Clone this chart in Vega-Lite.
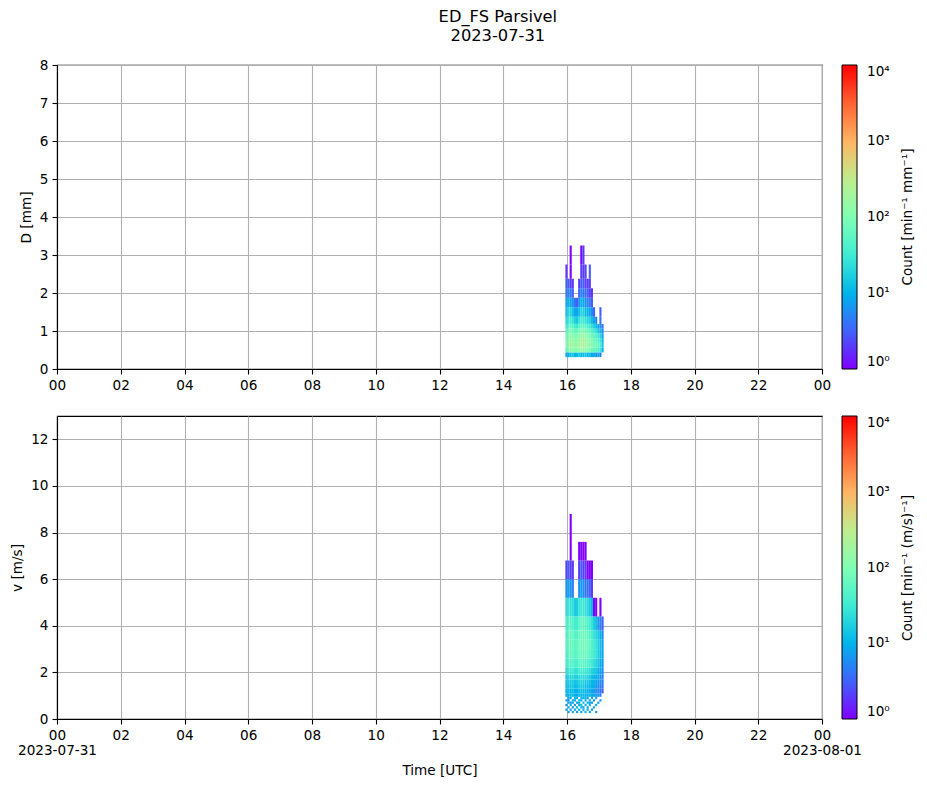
{
  "$schema": "https://vega.github.io/schema/vega-lite/v6.json",
  "description": "ED_FS Parsivel drop size and velocity spectra, 2023-07-31",
  "background": "white",
  "padding": {"left": 10, "top": 8, "right": 5, "bottom": 5},
  "title": {
    "text": ["ED_FS Parsivel", "2023-07-31"],
    "font": "DejaVu Sans",
    "fontSize": 16.3,
    "fontWeight": "normal",
    "color": "black",
    "anchor": "middle",
    "lineHeight": 19.5,
    "offset": 13,
    "dx": 35
  },
  "datasets": {
    "dcls": [
      {"k": 0.312, "hi": 0.437}, {"k": 0.437, "hi": 0.562}, {"k": 0.562, "hi": 0.687},
      {"k": 0.687, "hi": 0.812}, {"k": 0.812, "hi": 0.937}, {"k": 0.937, "hi": 1.062},
      {"k": 1.062, "hi": 1.187}, {"k": 1.187, "hi": 1.375}, {"k": 1.375, "hi": 1.625},
      {"k": 1.625, "hi": 1.875}, {"k": 1.875, "hi": 2.125}, {"k": 2.125, "hi": 2.375},
      {"k": 2.375, "hi": 2.75}, {"k": 2.75, "hi": 3.25}
    ],
    "vcls": [
      {"k": 0.25, "hi": 0.35}, {"k": 0.35, "hi": 0.45}, {"k": 0.45, "hi": 0.55},
      {"k": 0.55, "hi": 0.65}, {"k": 0.65, "hi": 0.75}, {"k": 0.75, "hi": 0.85},
      {"k": 0.85, "hi": 0.95}, {"k": 0.95, "hi": 1.1}, {"k": 1.1, "hi": 1.3},
      {"k": 1.3, "hi": 1.5}, {"k": 1.5, "hi": 1.7}, {"k": 1.7, "hi": 1.9},
      {"k": 1.9, "hi": 2.2}, {"k": 2.2, "hi": 2.6}, {"k": 2.6, "hi": 3.0},
      {"k": 3.0, "hi": 3.4}, {"k": 3.4, "hi": 3.8}, {"k": 3.8, "hi": 4.4},
      {"k": 4.4, "hi": 5.2}, {"k": 5.2, "hi": 6.0}, {"k": 6.0, "hi": 6.8},
      {"k": 6.8, "hi": 7.6}, {"k": 7.6, "hi": 8.8}
    ],
    "d": [
      {"t": 956, "k": 0.312, "n": 10}, {"t": 956, "k": 0.437, "n": 60}, {"t": 956, "k": 0.562, "n": 90}, {"t": 956, "k": 0.687, "n": 80}, {"t": 956, "k": 0.812, "n": 70}, {"t": 956, "k": 0.937, "n": 50}, {"t": 956, "k": 1.062, "n": 30}, {"t": 956, "k": 1.187, "n": 20}, {"t": 956, "k": 1.375, "n": 12}, {"t": 956, "k": 1.625, "n": 8}, {"t": 956, "k": 1.875, "n": 4}, {"t": 956, "k": 2.125, "n": 3}, {"t": 956, "k": 2.375, "n": 2},
      {"t": 960, "k": 0.312, "n": 8}, {"t": 960, "k": 0.437, "n": 100}, {"t": 960, "k": 0.562, "n": 150}, {"t": 960, "k": 0.687, "n": 130}, {"t": 960, "k": 0.812, "n": 110}, {"t": 960, "k": 0.937, "n": 80}, {"t": 960, "k": 1.062, "n": 50}, {"t": 960, "k": 1.187, "n": 30}, {"t": 960, "k": 1.375, "n": 20}, {"t": 960, "k": 1.625, "n": 10}, {"t": 960, "k": 1.875, "n": 5}, {"t": 960, "k": 2.125, "n": 3},
      {"t": 964, "k": 0.312, "n": 12}, {"t": 964, "k": 0.437, "n": 120}, {"t": 964, "k": 0.562, "n": 180}, {"t": 964, "k": 0.687, "n": 160}, {"t": 964, "k": 0.812, "n": 120}, {"t": 964, "k": 0.937, "n": 90}, {"t": 964, "k": 1.062, "n": 60}, {"t": 964, "k": 1.187, "n": 35}, {"t": 964, "k": 1.375, "n": 20}, {"t": 964, "k": 1.625, "n": 8}, {"t": 964, "k": 1.875, "n": 4}, {"t": 964, "k": 2.125, "n": 2}, {"t": 964, "k": 2.375, "n": 1}, {"t": 964, "k": 2.75, "n": 1},
      {"t": 968, "k": 0.312, "n": 15}, {"t": 968, "k": 0.437, "n": 130}, {"t": 968, "k": 0.562, "n": 170}, {"t": 968, "k": 0.687, "n": 150}, {"t": 968, "k": 0.812, "n": 120}, {"t": 968, "k": 0.937, "n": 80}, {"t": 968, "k": 1.062, "n": 50}, {"t": 968, "k": 1.187, "n": 25}, {"t": 968, "k": 1.375, "n": 12}, {"t": 968, "k": 1.625, "n": 6}, {"t": 968, "k": 1.875, "n": 3}, {"t": 968, "k": 2.125, "n": 2},
      {"t": 972, "k": 0.312, "n": 10}, {"t": 972, "k": 0.437, "n": 100}, {"t": 972, "k": 0.562, "n": 140}, {"t": 972, "k": 0.687, "n": 120}, {"t": 972, "k": 0.812, "n": 90}, {"t": 972, "k": 0.937, "n": 60}, {"t": 972, "k": 1.062, "n": 35}, {"t": 972, "k": 1.187, "n": 18}, {"t": 972, "k": 1.375, "n": 8}, {"t": 972, "k": 1.625, "n": 4},
      {"t": 976, "k": 0.312, "n": 12}, {"t": 976, "k": 0.437, "n": 110}, {"t": 976, "k": 0.562, "n": 150}, {"t": 976, "k": 0.687, "n": 130}, {"t": 976, "k": 0.812, "n": 100}, {"t": 976, "k": 0.937, "n": 60}, {"t": 976, "k": 1.062, "n": 30}, {"t": 976, "k": 1.187, "n": 15}, {"t": 976, "k": 1.375, "n": 8}, {"t": 976, "k": 1.625, "n": 3},
      {"t": 980, "k": 0.312, "n": 15}, {"t": 980, "k": 0.437, "n": 130}, {"t": 980, "k": 0.562, "n": 200}, {"t": 980, "k": 0.687, "n": 180}, {"t": 980, "k": 0.812, "n": 140}, {"t": 980, "k": 0.937, "n": 90}, {"t": 980, "k": 1.062, "n": 50}, {"t": 980, "k": 1.187, "n": 25}, {"t": 980, "k": 1.375, "n": 12}, {"t": 980, "k": 1.625, "n": 6}, {"t": 980, "k": 1.875, "n": 3}, {"t": 980, "k": 2.125, "n": 2},
      {"t": 984, "k": 0.312, "n": 10}, {"t": 984, "k": 0.437, "n": 150}, {"t": 984, "k": 0.562, "n": 220}, {"t": 984, "k": 0.687, "n": 200}, {"t": 984, "k": 0.812, "n": 150}, {"t": 984, "k": 0.937, "n": 100}, {"t": 984, "k": 1.062, "n": 60}, {"t": 984, "k": 1.187, "n": 35}, {"t": 984, "k": 1.375, "n": 20}, {"t": 984, "k": 1.625, "n": 10}, {"t": 984, "k": 1.875, "n": 5}, {"t": 984, "k": 2.125, "n": 3}, {"t": 984, "k": 2.375, "n": 2}, {"t": 984, "k": 2.75, "n": 1},
      {"t": 988, "k": 0.312, "n": 12}, {"t": 988, "k": 0.437, "n": 140}, {"t": 988, "k": 0.562, "n": 210}, {"t": 988, "k": 0.687, "n": 190}, {"t": 988, "k": 0.812, "n": 150}, {"t": 988, "k": 0.937, "n": 100}, {"t": 988, "k": 1.062, "n": 60}, {"t": 988, "k": 1.187, "n": 30}, {"t": 988, "k": 1.375, "n": 18}, {"t": 988, "k": 1.625, "n": 8}, {"t": 988, "k": 1.875, "n": 4}, {"t": 988, "k": 2.125, "n": 3}, {"t": 988, "k": 2.375, "n": 2}, {"t": 988, "k": 2.75, "n": 2},
      {"t": 992, "k": 0.312, "n": 14}, {"t": 992, "k": 0.437, "n": 120}, {"t": 992, "k": 0.562, "n": 180}, {"t": 992, "k": 0.687, "n": 170}, {"t": 992, "k": 0.812, "n": 130}, {"t": 992, "k": 0.937, "n": 80}, {"t": 992, "k": 1.062, "n": 50}, {"t": 992, "k": 1.187, "n": 25}, {"t": 992, "k": 1.375, "n": 12}, {"t": 992, "k": 1.625, "n": 6}, {"t": 992, "k": 1.875, "n": 4}, {"t": 992, "k": 2.125, "n": 2}, {"t": 992, "k": 2.375, "n": 2},
      {"t": 996, "k": 0.312, "n": 10}, {"t": 996, "k": 0.437, "n": 100}, {"t": 996, "k": 0.562, "n": 150}, {"t": 996, "k": 0.687, "n": 140}, {"t": 996, "k": 0.812, "n": 110}, {"t": 996, "k": 0.937, "n": 70}, {"t": 996, "k": 1.062, "n": 40}, {"t": 996, "k": 1.187, "n": 20}, {"t": 996, "k": 1.375, "n": 10}, {"t": 996, "k": 1.625, "n": 5}, {"t": 996, "k": 1.875, "n": 3}, {"t": 996, "k": 2.125, "n": 2},
      {"t": 1000, "k": 0.312, "n": 12}, {"t": 1000, "k": 0.437, "n": 90}, {"t": 1000, "k": 0.562, "n": 140}, {"t": 1000, "k": 0.687, "n": 120}, {"t": 1000, "k": 0.812, "n": 90}, {"t": 1000, "k": 0.937, "n": 60}, {"t": 1000, "k": 1.062, "n": 35}, {"t": 1000, "k": 1.187, "n": 18}, {"t": 1000, "k": 1.375, "n": 8}, {"t": 1000, "k": 1.625, "n": 4}, {"t": 1000, "k": 1.875, "n": 2}, {"t": 1000, "k": 2.125, "n": 2}, {"t": 1000, "k": 2.375, "n": 3},
      {"t": 1004, "k": 0.312, "n": 8}, {"t": 1004, "k": 0.437, "n": 70}, {"t": 1004, "k": 0.562, "n": 110}, {"t": 1004, "k": 0.687, "n": 100}, {"t": 1004, "k": 0.812, "n": 70}, {"t": 1004, "k": 0.937, "n": 45}, {"t": 1004, "k": 1.062, "n": 25}, {"t": 1004, "k": 1.187, "n": 12}, {"t": 1004, "k": 1.375, "n": 6}, {"t": 1004, "k": 1.625, "n": 3}, {"t": 1004, "k": 1.875, "n": 2},
      {"t": 1008, "k": 0.312, "n": 10}, {"t": 1008, "k": 0.437, "n": 60}, {"t": 1008, "k": 0.562, "n": 90}, {"t": 1008, "k": 0.687, "n": 80}, {"t": 1008, "k": 0.812, "n": 60}, {"t": 1008, "k": 0.937, "n": 35}, {"t": 1008, "k": 1.062, "n": 18}, {"t": 1008, "k": 1.187, "n": 8}, {"t": 1008, "k": 1.375, "n": 3},
      {"t": 1012, "k": 0.312, "n": 6}, {"t": 1012, "k": 0.437, "n": 50}, {"t": 1012, "k": 0.562, "n": 70}, {"t": 1012, "k": 0.687, "n": 60}, {"t": 1012, "k": 0.812, "n": 40}, {"t": 1012, "k": 0.937, "n": 25}, {"t": 1012, "k": 1.062, "n": 12}, {"t": 1012, "k": 1.187, "n": 5},
      {"t": 1016, "k": 0.312, "n": 8}, {"t": 1016, "k": 0.437, "n": 40}, {"t": 1016, "k": 0.562, "n": 60}, {"t": 1016, "k": 0.687, "n": 45}, {"t": 1016, "k": 0.812, "n": 30}, {"t": 1016, "k": 0.937, "n": 15}, {"t": 1016, "k": 1.062, "n": 8},
      {"t": 1020, "k": 0.312, "n": 5}, {"t": 1020, "k": 0.437, "n": 30}, {"t": 1020, "k": 0.562, "n": 40}, {"t": 1020, "k": 0.687, "n": 30}, {"t": 1020, "k": 0.812, "n": 20}, {"t": 1020, "k": 0.937, "n": 12}, {"t": 1020, "k": 1.062, "n": 6}, {"t": 1020, "k": 1.187, "n": 4}, {"t": 1020, "k": 1.375, "n": 3},
      {"t": 1024, "k": 0.437, "n": 10}, {"t": 1024, "k": 0.562, "n": 15}, {"t": 1024, "k": 0.687, "n": 12}, {"t": 1024, "k": 0.812, "n": 8}, {"t": 1024, "k": 0.937, "n": 6}, {"t": 1024, "k": 1.062, "n": 4}
    ],
    "v": [
      {"t": 956, "k": 0.35, "n": 8}, {"t": 956, "k": 0.55, "n": 6}, {"t": 956, "k": 0.75, "n": 10}, {"t": 956, "k": 0.95, "n": 9}, {"t": 956, "k": 1.1, "n": 10}, {"t": 956, "k": 1.3, "n": 12}, {"t": 956, "k": 1.5, "n": 14}, {"t": 956, "k": 1.7, "n": 16}, {"t": 956, "k": 1.9, "n": 22}, {"t": 956, "k": 2.2, "n": 32}, {"t": 956, "k": 2.6, "n": 40}, {"t": 956, "k": 3.0, "n": 45}, {"t": 956, "k": 3.4, "n": 42}, {"t": 956, "k": 3.8, "n": 38}, {"t": 956, "k": 4.4, "n": 22}, {"t": 956, "k": 5.2, "n": 6}, {"t": 956, "k": 6.0, "n": 2},
      {"t": 960, "k": 0.25, "n": 6}, {"t": 960, "k": 0.45, "n": 9}, {"t": 960, "k": 0.65, "n": 10}, {"t": 960, "k": 0.75, "n": 5}, {"t": 960, "k": 0.85, "n": 8}, {"t": 960, "k": 0.95, "n": 10}, {"t": 960, "k": 1.1, "n": 12}, {"t": 960, "k": 1.3, "n": 14}, {"t": 960, "k": 1.5, "n": 16}, {"t": 960, "k": 1.7, "n": 20}, {"t": 960, "k": 1.9, "n": 30}, {"t": 960, "k": 2.2, "n": 48}, {"t": 960, "k": 2.6, "n": 62}, {"t": 960, "k": 3.0, "n": 70}, {"t": 960, "k": 3.4, "n": 65}, {"t": 960, "k": 3.8, "n": 55}, {"t": 960, "k": 4.4, "n": 30}, {"t": 960, "k": 5.2, "n": 8}, {"t": 960, "k": 6.0, "n": 3},
      {"t": 964, "k": 0.35, "n": 7}, {"t": 964, "k": 0.55, "n": 10}, {"t": 964, "k": 0.65, "n": 6}, {"t": 964, "k": 0.85, "n": 9}, {"t": 964, "k": 0.95, "n": 11}, {"t": 964, "k": 1.1, "n": 10}, {"t": 964, "k": 1.3, "n": 14}, {"t": 964, "k": 1.5, "n": 16}, {"t": 964, "k": 1.7, "n": 20}, {"t": 964, "k": 1.9, "n": 30}, {"t": 964, "k": 2.2, "n": 45}, {"t": 964, "k": 2.6, "n": 58}, {"t": 964, "k": 3.0, "n": 65}, {"t": 964, "k": 3.4, "n": 62}, {"t": 964, "k": 3.8, "n": 50}, {"t": 964, "k": 4.4, "n": 26}, {"t": 964, "k": 5.2, "n": 6}, {"t": 964, "k": 6.0, "n": 2}, {"t": 964, "k": 6.8, "n": 1}, {"t": 964, "k": 7.6, "n": 1},
      {"t": 968, "k": 0.25, "n": 8}, {"t": 968, "k": 0.45, "n": 6}, {"t": 968, "k": 0.65, "n": 9}, {"t": 968, "k": 0.75, "n": 10}, {"t": 968, "k": 0.95, "n": 12}, {"t": 968, "k": 1.1, "n": 12}, {"t": 968, "k": 1.3, "n": 15}, {"t": 968, "k": 1.5, "n": 16}, {"t": 968, "k": 1.7, "n": 22}, {"t": 968, "k": 1.9, "n": 32}, {"t": 968, "k": 2.2, "n": 48}, {"t": 968, "k": 2.6, "n": 62}, {"t": 968, "k": 3.0, "n": 66}, {"t": 968, "k": 3.4, "n": 62}, {"t": 968, "k": 3.8, "n": 46}, {"t": 968, "k": 4.4, "n": 24}, {"t": 968, "k": 5.2, "n": 5}, {"t": 968, "k": 6.0, "n": 2},
      {"t": 972, "k": 0.35, "n": 9}, {"t": 972, "k": 0.55, "n": 7}, {"t": 972, "k": 0.75, "n": 8}, {"t": 972, "k": 0.85, "n": 10}, {"t": 972, "k": 0.95, "n": 9}, {"t": 972, "k": 1.1, "n": 10}, {"t": 972, "k": 1.3, "n": 12}, {"t": 972, "k": 1.5, "n": 14}, {"t": 972, "k": 1.7, "n": 18}, {"t": 972, "k": 1.9, "n": 26}, {"t": 972, "k": 2.2, "n": 40}, {"t": 972, "k": 2.6, "n": 50}, {"t": 972, "k": 3.0, "n": 55}, {"t": 972, "k": 3.4, "n": 46}, {"t": 972, "k": 3.8, "n": 35}, {"t": 972, "k": 4.4, "n": 16},
      {"t": 976, "k": 0.25, "n": 7}, {"t": 976, "k": 0.45, "n": 10}, {"t": 976, "k": 0.65, "n": 8}, {"t": 976, "k": 0.85, "n": 9}, {"t": 976, "k": 0.95, "n": 8}, {"t": 976, "k": 1.1, "n": 10}, {"t": 976, "k": 1.3, "n": 13}, {"t": 976, "k": 1.5, "n": 15}, {"t": 976, "k": 1.7, "n": 18}, {"t": 976, "k": 1.9, "n": 26}, {"t": 976, "k": 2.2, "n": 40}, {"t": 976, "k": 2.6, "n": 54}, {"t": 976, "k": 3.0, "n": 58}, {"t": 976, "k": 3.4, "n": 50}, {"t": 976, "k": 3.8, "n": 35}, {"t": 976, "k": 4.4, "n": 17},
      {"t": 980, "k": 0.35, "n": 10}, {"t": 980, "k": 0.55, "n": 8}, {"t": 980, "k": 0.65, "n": 9}, {"t": 980, "k": 0.75, "n": 11}, {"t": 980, "k": 0.95, "n": 12}, {"t": 980, "k": 1.1, "n": 12}, {"t": 980, "k": 1.3, "n": 15}, {"t": 980, "k": 1.5, "n": 18}, {"t": 980, "k": 1.7, "n": 22}, {"t": 980, "k": 1.9, "n": 34}, {"t": 980, "k": 2.2, "n": 55}, {"t": 980, "k": 2.6, "n": 70}, {"t": 980, "k": 3.0, "n": 76}, {"t": 980, "k": 3.4, "n": 70}, {"t": 980, "k": 3.8, "n": 54}, {"t": 980, "k": 4.4, "n": 28}, {"t": 980, "k": 5.2, "n": 6}, {"t": 980, "k": 6.0, "n": 2}, {"t": 980, "k": 6.8, "n": 1},
      {"t": 984, "k": 0.25, "n": 9}, {"t": 984, "k": 0.45, "n": 8}, {"t": 984, "k": 0.55, "n": 11}, {"t": 984, "k": 0.75, "n": 9}, {"t": 984, "k": 0.85, "n": 12}, {"t": 984, "k": 0.95, "n": 10}, {"t": 984, "k": 1.1, "n": 13}, {"t": 984, "k": 1.3, "n": 16}, {"t": 984, "k": 1.5, "n": 20}, {"t": 984, "k": 1.7, "n": 24}, {"t": 984, "k": 1.9, "n": 36}, {"t": 984, "k": 2.2, "n": 58}, {"t": 984, "k": 2.6, "n": 76}, {"t": 984, "k": 3.0, "n": 84}, {"t": 984, "k": 3.4, "n": 76}, {"t": 984, "k": 3.8, "n": 60}, {"t": 984, "k": 4.4, "n": 30}, {"t": 984, "k": 5.2, "n": 7}, {"t": 984, "k": 6.0, "n": 3}, {"t": 984, "k": 6.8, "n": 1},
      {"t": 988, "k": 0.35, "n": 8}, {"t": 988, "k": 0.45, "n": 10}, {"t": 988, "k": 0.65, "n": 12}, {"t": 988, "k": 0.85, "n": 9}, {"t": 988, "k": 0.95, "n": 11}, {"t": 988, "k": 1.1, "n": 12}, {"t": 988, "k": 1.3, "n": 15}, {"t": 988, "k": 1.5, "n": 18}, {"t": 988, "k": 1.7, "n": 23}, {"t": 988, "k": 1.9, "n": 34}, {"t": 988, "k": 2.2, "n": 55}, {"t": 988, "k": 2.6, "n": 72}, {"t": 988, "k": 3.0, "n": 80}, {"t": 988, "k": 3.4, "n": 72}, {"t": 988, "k": 3.8, "n": 58}, {"t": 988, "k": 4.4, "n": 30}, {"t": 988, "k": 5.2, "n": 6}, {"t": 988, "k": 6.0, "n": 2}, {"t": 988, "k": 6.8, "n": 1},
      {"t": 992, "k": 0.25, "n": 10}, {"t": 992, "k": 0.55, "n": 9}, {"t": 992, "k": 0.75, "n": 8}, {"t": 992, "k": 0.85, "n": 11}, {"t": 992, "k": 0.95, "n": 9}, {"t": 992, "k": 1.1, "n": 11}, {"t": 992, "k": 1.3, "n": 13}, {"t": 992, "k": 1.5, "n": 16}, {"t": 992, "k": 1.7, "n": 20}, {"t": 992, "k": 1.9, "n": 30}, {"t": 992, "k": 2.2, "n": 48}, {"t": 992, "k": 2.6, "n": 66}, {"t": 992, "k": 3.0, "n": 72}, {"t": 992, "k": 3.4, "n": 66}, {"t": 992, "k": 3.8, "n": 50}, {"t": 992, "k": 4.4, "n": 25}, {"t": 992, "k": 5.2, "n": 4}, {"t": 992, "k": 6.0, "n": 2}, {"t": 992, "k": 6.8, "n": 1},
      {"t": 996, "k": 0.35, "n": 9}, {"t": 996, "k": 0.45, "n": 7}, {"t": 996, "k": 0.65, "n": 10}, {"t": 996, "k": 0.85, "n": 8}, {"t": 996, "k": 0.95, "n": 10}, {"t": 996, "k": 1.1, "n": 10}, {"t": 996, "k": 1.3, "n": 12}, {"t": 996, "k": 1.5, "n": 15}, {"t": 996, "k": 1.7, "n": 18}, {"t": 996, "k": 1.9, "n": 27}, {"t": 996, "k": 2.2, "n": 43}, {"t": 996, "k": 2.6, "n": 58}, {"t": 996, "k": 3.0, "n": 65}, {"t": 996, "k": 3.4, "n": 58}, {"t": 996, "k": 3.8, "n": 42}, {"t": 996, "k": 4.4, "n": 20}, {"t": 996, "k": 5.2, "n": 4}, {"t": 996, "k": 6.0, "n": 1},
      {"t": 1000, "k": 0.25, "n": 8}, {"t": 1000, "k": 0.55, "n": 10}, {"t": 1000, "k": 0.65, "n": 7}, {"t": 1000, "k": 0.75, "n": 9}, {"t": 1000, "k": 0.95, "n": 11}, {"t": 1000, "k": 1.1, "n": 9}, {"t": 1000, "k": 1.3, "n": 11}, {"t": 1000, "k": 1.5, "n": 13}, {"t": 1000, "k": 1.7, "n": 16}, {"t": 1000, "k": 1.9, "n": 24}, {"t": 1000, "k": 2.2, "n": 38}, {"t": 1000, "k": 2.6, "n": 50}, {"t": 1000, "k": 3.0, "n": 55}, {"t": 1000, "k": 3.4, "n": 48}, {"t": 1000, "k": 3.8, "n": 35}, {"t": 1000, "k": 4.4, "n": 15}, {"t": 1000, "k": 5.2, "n": 3}, {"t": 1000, "k": 6.0, "n": 1},
      {"t": 1004, "k": 0.35, "n": 7}, {"t": 1004, "k": 0.65, "n": 9}, {"t": 1004, "k": 0.85, "n": 8}, {"t": 1004, "k": 0.95, "n": 9}, {"t": 1004, "k": 1.1, "n": 8}, {"t": 1004, "k": 1.3, "n": 10}, {"t": 1004, "k": 1.5, "n": 11}, {"t": 1004, "k": 1.7, "n": 13}, {"t": 1004, "k": 1.9, "n": 20}, {"t": 1004, "k": 2.2, "n": 32}, {"t": 1004, "k": 2.6, "n": 42}, {"t": 1004, "k": 3.0, "n": 46}, {"t": 1004, "k": 3.4, "n": 38}, {"t": 1004, "k": 3.8, "n": 27}, {"t": 1004, "k": 4.4, "n": 11}, {"t": 1004, "k": 5.2, "n": 2}, {"t": 1004, "k": 6.0, "n": 1},
      {"t": 1008, "k": 0.45, "n": 8}, {"t": 1008, "k": 0.75, "n": 7}, {"t": 1008, "k": 0.95, "n": 8}, {"t": 1008, "k": 1.1, "n": 7}, {"t": 1008, "k": 1.3, "n": 9}, {"t": 1008, "k": 1.5, "n": 10}, {"t": 1008, "k": 1.7, "n": 11}, {"t": 1008, "k": 1.9, "n": 16}, {"t": 1008, "k": 2.2, "n": 25}, {"t": 1008, "k": 2.6, "n": 32}, {"t": 1008, "k": 3.0, "n": 35}, {"t": 1008, "k": 3.4, "n": 27}, {"t": 1008, "k": 3.8, "n": 17}, {"t": 1008, "k": 4.4, "n": 1},
      {"t": 1012, "k": 0.25, "n": 6}, {"t": 1012, "k": 0.55, "n": 8}, {"t": 1012, "k": 0.85, "n": 7}, {"t": 1012, "k": 0.95, "n": 8}, {"t": 1012, "k": 1.1, "n": 6}, {"t": 1012, "k": 1.3, "n": 7}, {"t": 1012, "k": 1.5, "n": 8}, {"t": 1012, "k": 1.7, "n": 9}, {"t": 1012, "k": 1.9, "n": 13}, {"t": 1012, "k": 2.2, "n": 19}, {"t": 1012, "k": 2.6, "n": 25}, {"t": 1012, "k": 3.0, "n": 26}, {"t": 1012, "k": 3.4, "n": 20}, {"t": 1012, "k": 3.8, "n": 12}, {"t": 1012, "k": 4.4, "n": 1},
      {"t": 1016, "k": 0.65, "n": 7}, {"t": 1016, "k": 0.95, "n": 6}, {"t": 1016, "k": 1.1, "n": 5}, {"t": 1016, "k": 1.3, "n": 6}, {"t": 1016, "k": 1.5, "n": 7}, {"t": 1016, "k": 1.7, "n": 8}, {"t": 1016, "k": 1.9, "n": 10}, {"t": 1016, "k": 2.2, "n": 14}, {"t": 1016, "k": 2.6, "n": 17}, {"t": 1016, "k": 3.0, "n": 18}, {"t": 1016, "k": 3.4, "n": 14}, {"t": 1016, "k": 3.8, "n": 7},
      {"t": 1020, "k": 0.75, "n": 6}, {"t": 1020, "k": 0.95, "n": 5}, {"t": 1020, "k": 1.1, "n": 4}, {"t": 1020, "k": 1.3, "n": 5}, {"t": 1020, "k": 1.5, "n": 6}, {"t": 1020, "k": 1.7, "n": 7}, {"t": 1020, "k": 1.9, "n": 8}, {"t": 1020, "k": 2.2, "n": 10}, {"t": 1020, "k": 2.6, "n": 12}, {"t": 1020, "k": 3.0, "n": 13}, {"t": 1020, "k": 3.4, "n": 10}, {"t": 1020, "k": 3.8, "n": 5}, {"t": 1020, "k": 4.4, "n": 1},
      {"t": 1024, "k": 1.1, "n": 3}, {"t": 1024, "k": 1.3, "n": 4}, {"t": 1024, "k": 1.5, "n": 5}, {"t": 1024, "k": 1.7, "n": 5}, {"t": 1024, "k": 1.9, "n": 6}, {"t": 1024, "k": 2.2, "n": 7}, {"t": 1024, "k": 2.6, "n": 8}, {"t": 1024, "k": 3.0, "n": 8}, {"t": 1024, "k": 3.4, "n": 6}, {"t": 1024, "k": 3.8, "n": 3}
    ]
  },
  "spacing": 22,
  "vconcat": [
    {
      "width": 765,
      "height": 304,
      "data": {"name": "d"},
      "transform": [
        {"lookup": "k", "from": {"data": {"name": "dcls"}, "key": "k", "fields": ["hi"]}}
      ],
      "mark": {"type": "rect"},
      "encoding": {
        "x": {
          "field": "t",
          "type": "quantitative",
          "bin": {"step": 4, "extent": [0, 1440]},
          "scale": {"domain": [0, 1440]},
          "axis": {
            "title": null,
            "values": [0, 120, 240, 360, 480, 600, 720, 840, 960, 1080, 1200, 1320, 1440],
            "labelExpr": "datum.value == 1440 ? '00' : format(datum.value / 60, '02d')",
            "labelOverlap": false,
            "labelFlush": false
          }
        },
        "y": {
          "field": "k",
          "type": "quantitative",
          "scale": {"domain": [0, 8], "nice": false},
          "axis": {"title": "D [mm]", "values": [0, 1, 2, 3, 4, 5, 6, 7, 8]}
        },
        "y2": {"field": "hi"},
        "color": {
          "field": "n",
          "type": "quantitative",
          "scale": {
            "type": "log",
            "domain": [1, 3.1623, 10, 31.623, 100, 316.23, 1000, 3162.3, 10000],
            "range": ["#8000ff", "#4062fa", "#00b4eb", "#40ecd4", "#80ffb4", "#c0ec8e", "#ffb462", "#ff6232", "#ff0000"],
            "interpolate": "rgb",
            "clamp": true
          },
          "legend": {
            "title": "Count [min⁻¹ mm⁻¹]",
            "values": [1, 10, 100, 1000, 10000],
            "labelExpr": "datum.value == 1 ? '10⁰' : datum.value == 10 ? '10¹' : datum.value == 100 ? '10²' : datum.value == 1000 ? '10³' : '10⁴'",
            "labelOffset": 10,
            "gradientLength": 304,
            "encoding": {"title": {"angle": {"value": 270}, "baseline": {"value": "top"}}}
          }
        }
      }
    },
    {
      "width": 765,
      "height": 303,
      "data": {"name": "v"},
      "transform": [
        {"lookup": "k", "from": {"data": {"name": "vcls"}, "key": "k", "fields": ["hi"]}}
      ],
      "mark": {"type": "rect"},
      "encoding": {
        "x": {
          "field": "t",
          "type": "quantitative",
          "bin": {"step": 4, "extent": [0, 1440]},
          "scale": {"domain": [0, 1440]},
          "axis": {
            "title": "Time [UTC]",
            "titlePadding": 6,
            "values": [0, 120, 240, 360, 480, 600, 720, 840, 960, 1080, 1200, 1320, 1440],
            "labelExpr": "datum.value == 0 ? ['00', '2023-07-31'] : datum.value == 1440 ? ['00', '2023-08-01'] : format(datum.value / 60, '02d')",
            "labelOverlap": false,
            "labelFlush": false,
            "labelLineHeight": 15.5
          }
        },
        "y": {
          "field": "k",
          "type": "quantitative",
          "scale": {"domain": [0, 13], "nice": false},
          "axis": {"title": "v [m/s]", "values": [0, 2, 4, 6, 8, 10, 12]}
        },
        "y2": {"field": "hi"},
        "color": {
          "field": "n",
          "type": "quantitative",
          "scale": {
            "type": "log",
            "domain": [1, 3.1623, 10, 31.623, 100, 316.23, 1000, 3162.3, 10000],
            "range": ["#8000ff", "#4062fa", "#00b4eb", "#40ecd4", "#80ffb4", "#c0ec8e", "#ffb462", "#ff6232", "#ff0000"],
            "interpolate": "rgb",
            "clamp": true
          },
          "legend": {
            "title": "Count [min⁻¹ (m/s)⁻¹]",
            "values": [1, 10, 100, 1000, 10000],
            "labelExpr": "datum.value == 1 ? '10⁰' : datum.value == 10 ? '10¹' : datum.value == 100 ? '10²' : datum.value == 1000 ? '10³' : '10⁴'",
            "labelOffset": 10,
            "gradientLength": 303,
            "encoding": {"title": {"angle": {"value": 270}, "baseline": {"value": "top"}}}
          }
        }
      }
    }
  ],
  "resolve": {
    "scale": {"color": "independent"},
    "legend": {"color": "independent"}
  },
  "config": {
    "font": "DejaVu Sans",
    "view": {"stroke": "black", "strokeWidth": 1.1},
    "axis": {
      "labelFont": "DejaVu Sans",
      "labelFontSize": 13.6,
      "labelColor": "black",
      "titleFont": "DejaVu Sans",
      "titleFontSize": 13.6,
      "titleFontWeight": "normal",
      "titleColor": "black",
      "titlePadding": 6,
      "domainColor": "black",
      "domainWidth": 1.1,
      "tickColor": "black",
      "tickSize": 5,
      "tickWidth": 1.1,
      "labelPadding": 4,
      "grid": true,
      "gridColor": "#b0b0b0",
      "gridWidth": 1.1,
      "zindex": 1
    },
    "legend": {
      "orient": "right",
      "direction": "vertical",
      "offset": 20,
      "padding": 0,
      "gradientThickness": 15,
      "gradientStrokeColor": "black",
      "gradientStrokeWidth": 1,
      "labelFont": "DejaVu Sans",
      "labelFontSize": 13.6,
      "labelColor": "black",
      "labelBaseline": "middle",
      "labelOverlap": false,
      "titleFont": "DejaVu Sans",
      "titleFontSize": 13.6,
      "titleFontWeight": "normal",
      "titleColor": "black",
      "titleOrient": "right",
      "titleAnchor": "middle",
      "titlePadding": 11
    }
  }
}
